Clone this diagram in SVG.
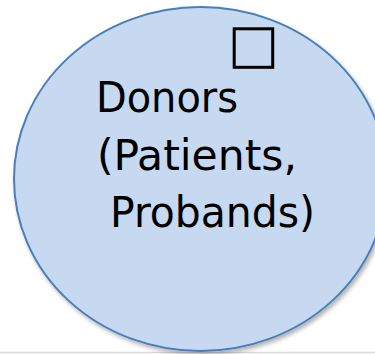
<svg xmlns="http://www.w3.org/2000/svg" width="375" height="354" viewBox="0 0 375 354">
<style>
.lbl{font-family:"DejaVu Sans Condensed","DejaVu Sans",sans-serif;font-stretch:condensed;font-size:43px;fill:#000}
</style>
<defs>
<filter id="sh" x="-10%" y="-10%" width="130%" height="130%">
<feGaussianBlur in="SourceAlpha" stdDeviation="2"/>
<feOffset dx="2" dy="3" result="b"/>
<feComponentTransfer><feFuncA type="linear" slope="0.3"/></feComponentTransfer>
<feMerge><feMergeNode/><feMergeNode in="SourceGraphic"/></feMerge>
</filter>
</defs>
<rect width="375" height="354" fill="#fff"/>
<line x1="0" y1="352.5" x2="375" y2="352.5" stroke="#d9d9d9" stroke-width="1.5"/>
<g id="donors">
<ellipse cx="200.5" cy="179" rx="186.5" ry="172" fill="#C6D9F0" stroke="#4A7EBB" stroke-width="2" filter="url(#sh)"/>
<rect x="234.2" y="28.8" width="38.5" height="38.5" fill="none" stroke="#000" stroke-width="3"/>
<text class="lbl" x="96" y="112" textLength="142" lengthAdjust="spacingAndGlyphs">Donors</text>
<text class="lbl" x="97" y="170" textLength="200" lengthAdjust="spacingAndGlyphs">(Patients,</text>
<text class="lbl" x="110" y="227" textLength="205" lengthAdjust="spacingAndGlyphs">Probands)</text>
</g>
</svg>
